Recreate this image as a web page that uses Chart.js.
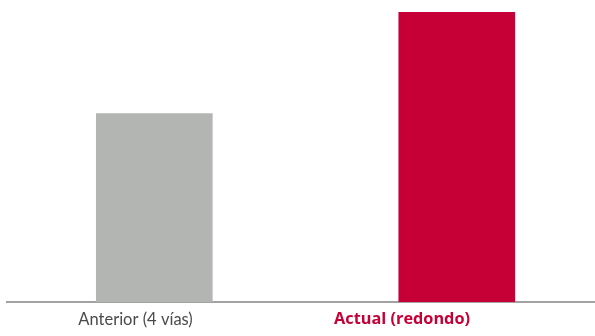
<!DOCTYPE html>
<html>
<head>
<meta charset="utf-8">
<script src="https://cdn.jsdelivr.net/npm/chart.js@4/dist/chart.umd.min.js"></script>
<style>
  html, body { margin: 0; padding: 0; background: #fff; }
  #wrap { width: 595px; height: 336px; }
</style>
</head>
<body>
<div id="wrap"><canvas id="chart1"></canvas></div>
<script>
// chart values
const categories = ['Anterior (4 vías)', 'Actual (redondo)'];
const values = [65, 100];
const barColors = ['#b3b5b3', '#c60036'];
const labelColors = ['#4a4a4a', '#c60036'];
const labelFonts = [
  { family: 'Lato', size: 16.5, weight: 'normal' },
  { family: 'Open Sans', size: 16.3, weight: 'bold' }
];

// label anchors sit a bit left of the bars, as in the original
const labelPositions = [-0.062, 0.819];

const ctx = document.getElementById('chart1');

new Chart(ctx, {
  type: 'bar',
  data: {
    datasets: [{
      data: values.map((v, i) => ({ x: i, y: v })),
      backgroundColor: barColors,
      barThickness: 116,
      borderWidth: 0
    }]
  },
  options: {
    responsive: true,
    maintainAspectRatio: false,
    animation: false,
    layout: { padding: { top: 12, left: 7, right: 0, bottom: 0 } },
    plugins: { legend: { display: false }, tooltip: { enabled: false } },
    scales: {
      x: {
        type: 'linear',
        offset: false,
        min: -0.487,
        max: 1.457,
        grid: { display: false, drawTicks: false, offset: false },
        border: { display: true, color: '#a2a2a2', width: 2 },
        afterBuildTicks: scale => {
          scale.ticks = labelPositions.map(v => ({ value: v }));
        },
        afterFit: scale => { scale.height = 34; },
        ticks: {
          autoSkip: false,
          maxRotation: 0,
          padding: 8,
          callback: (value, index) => categories[index],
          color: c => labelColors[c.index],
          font: c => labelFonts[c.index]
        }
      },
      y: {
        display: false,
        min: 0,
        max: 100
      }
    }
  }
});
</script>
</body>
</html>
